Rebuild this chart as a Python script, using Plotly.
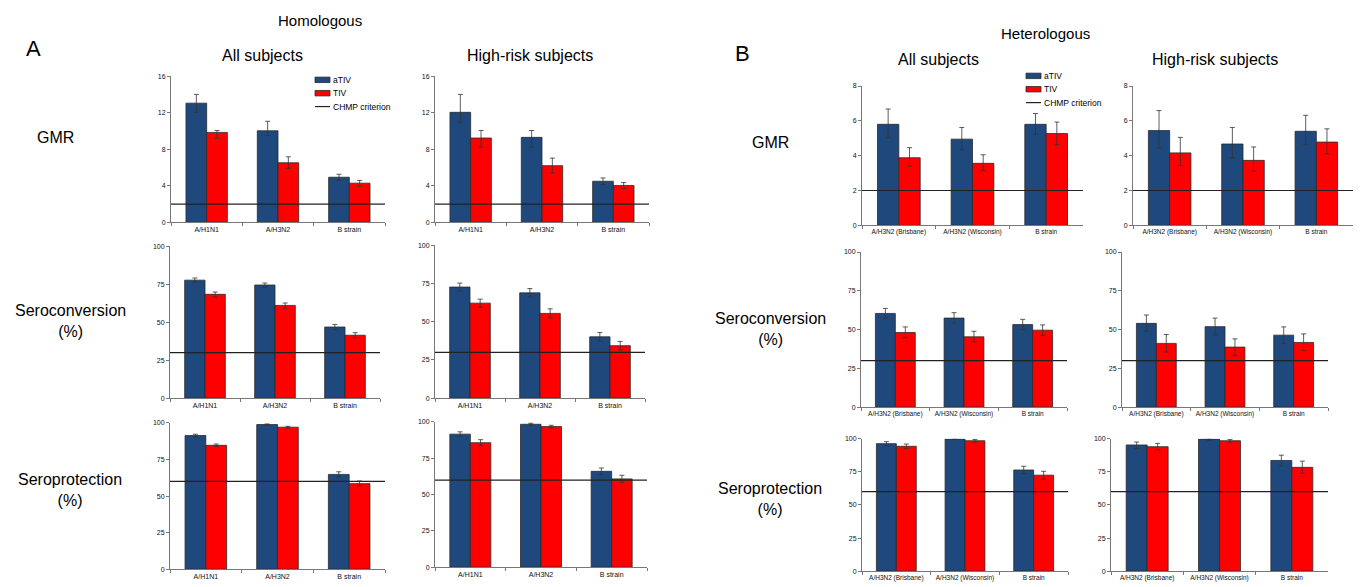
import plotly.graph_objects as go

W, H = 1360, 587

CATS_A = ["A/H1N1", "A/H3N2", "B strain"]
CATS_B = ["A/H3N2 (Brisbane)", "A/H3N2 (Wisconsin)", "B strain"]
SERIES = ["aTIV", "TIV"]
CRIT_LABEL = "CHMP criterion"

# ---- Panel A (homologous) ----
A_ALL_GMR_ATIV = [13.04, 10.02, 4.94]
A_ALL_GMR_ATIV_HI = [14.0, 11.06, 5.26]
A_ALL_GMR_ATIV_LO = [12.04, 9.51, 4.58]
A_ALL_GMR_TIV = [9.84, 6.52, 4.29]
A_ALL_GMR_TIV_HI = [10.05, 7.17, 4.58]
A_ALL_GMR_TIV_LO = [9.19, 5.91, 3.93]

A_HR_GMR_ATIV = [12.04, 9.3, 4.5]
A_HR_GMR_ATIV_HI = [14.0, 10.05, 4.86]
A_HR_GMR_ATIV_LO = [10.95, 8.25, 4.14]
A_HR_GMR_TIV = [9.23, 6.2, 4.04]
A_HR_GMR_TIV_HI = [10.05, 7.03, 4.36]
A_HR_GMR_TIV_LO = [8.25, 5.41, 3.71]

A_ALL_SC_ATIV = [77.6, 74.4, 46.8]
A_ALL_SC_ATIV_HI = [79.0, 75.7, 48.5]
A_ALL_SC_ATIV_LO = [76.3, 72.7, 45.0]
A_ALL_SC_TIV = [68.3, 61.0, 41.4]
A_ALL_SC_TIV_HI = [69.8, 62.6, 43.1]
A_ALL_SC_TIV_LO = [66.5, 59.2, 39.7]

A_HR_SC_ATIV = [72.6, 68.8, 40.1]
A_HR_SC_ATIV_HI = [75.2, 71.6, 42.9]
A_HR_SC_ATIV_LO = [70.0, 66.2, 37.3]
A_HR_SC_TIV = [62.1, 55.4, 34.3]
A_HR_SC_TIV_HI = [64.7, 58.4, 37.1]
A_HR_SC_TIV_LO = [59.3, 52.4, 31.5]

A_ALL_SP_ATIV = [91.4, 98.9, 64.8]
A_ALL_SP_ATIV_HI = [92.3, 99.3, 66.6]
A_ALL_SP_ATIV_LO = [90.3, 98.4, 63.0]
A_ALL_SP_TIV = [84.7, 97.1, 58.5]
A_ALL_SP_TIV_HI = [85.6, 97.7, 60.3]
A_ALL_SP_TIV_LO = [83.9, 96.4, 57.0]

A_HR_SP_ATIV = [91.6, 98.4, 66.0]
A_HR_SP_ATIV_HI = [93.2, 99.1, 68.3]
A_HR_SP_ATIV_LO = [90.0, 97.7, 63.7]
A_HR_SP_TIV = [85.7, 96.8, 60.8]
A_HR_SP_TIV_HI = [87.8, 97.7, 63.3]
A_HR_SP_TIV_LO = [83.7, 95.9, 58.4]

# ---- Panel B (heterologous) ----
B_ALL_GMR_ATIV = [5.8, 4.95, 5.8]
B_ALL_GMR_ATIV_HI = [6.68, 5.62, 6.42]
B_ALL_GMR_ATIV_LO = [5.03, 4.33, 5.22]
B_ALL_GMR_TIV = [3.88, 3.56, 5.27]
B_ALL_GMR_TIV_HI = [4.46, 4.05, 5.93]
B_ALL_GMR_TIV_LO = [3.39, 3.13, 4.63]

B_HR_GMR_ATIV = [5.44, 4.67, 5.4]
B_HR_GMR_ATIV_HI = [6.59, 5.62, 6.32]
B_HR_GMR_ATIV_LO = [4.44, 3.86, 4.63]
B_HR_GMR_TIV = [4.16, 3.73, 4.78]
B_HR_GMR_TIV_HI = [5.05, 4.5, 5.54]
B_HR_GMR_TIV_LO = [3.43, 3.1, 4.1]

B_ALL_SC_ATIV = [60.4, 57.4, 53.2]
B_ALL_SC_ATIV_HI = [63.6, 60.9, 56.6]
B_ALL_SC_ATIV_LO = [57.2, 54.3, 50.0]
B_ALL_SC_TIV = [48.1, 45.3, 49.6]
B_ALL_SC_TIV_HI = [51.7, 48.9, 53.0]
B_ALL_SC_TIV_LO = [44.7, 42.1, 46.2]

B_HR_SC_ATIV = [54.0, 51.9, 46.4]
B_HR_SC_ATIV_HI = [59.4, 57.4, 51.7]
B_HR_SC_ATIV_LO = [48.9, 46.6, 41.1]
B_HR_SC_TIV = [41.1, 38.7, 41.7]
B_HR_SC_TIV_HI = [46.8, 44.0, 47.2]
B_HR_SC_TIV_LO = [35.5, 33.2, 36.4]

B_ALL_SP_ATIV = [96.3, 99.8, 76.4]
B_ALL_SP_ATIV_HI = [97.8, 100.0, 79.2]
B_ALL_SP_ATIV_LO = [94.8, 99.3, 73.7]
B_ALL_SP_TIV = [94.3, 98.5, 72.5]
B_ALL_SP_TIV_HI = [96.0, 99.5, 75.4]
B_ALL_SP_TIV_LO = [92.6, 97.5, 69.5]

B_HR_SP_ATIV = [95.3, 99.8, 83.6]
B_HR_SP_ATIV_HI = [97.5, 100.5, 87.6]
B_HR_SP_ATIV_LO = [92.6, 98.8, 79.4]
B_HR_SP_TIV = [94.0, 98.5, 78.4]
B_HR_SP_TIV_HI = [96.5, 99.5, 83.1]
B_HR_SP_TIV_LO = [91.6, 97.5, 73.9]

# CHMP criteria
CRIT_GMR = 2
CRIT_SC = 30
CRIT_SP = 60

TICKS_GMR_A = [0, 4, 8, 12, 16]
TICKS_GMR_B = [0, 2, 4, 6, 8]
TICKS_PCT = [0, 25, 50, 75, 100]

BLUE = "#1f497d"
RED = "#ff0000"
EDGE = "#2a2a2a"
CRIT_COLOR = "#222222"
FONT = "Arial, Liberation Sans, sans-serif"

panels = [
    (CATS_A, (A_ALL_GMR_ATIV, A_ALL_GMR_ATIV_HI, A_ALL_GMR_ATIV_LO), (A_ALL_GMR_TIV, A_ALL_GMR_TIV_HI, A_ALL_GMR_TIV_LO), CRIT_GMR, TICKS_GMR_A, (171, 385, 73, 221), (315, 74)),
    (CATS_A, (A_HR_GMR_ATIV, A_HR_GMR_ATIV_HI, A_HR_GMR_ATIV_LO), (A_HR_GMR_TIV, A_HR_GMR_TIV_HI, A_HR_GMR_TIV_LO), CRIT_GMR, TICKS_GMR_A, (435, 649, 73, 221), None),
    (CATS_A, (A_ALL_SC_ATIV, A_ALL_SC_ATIV_HI, A_ALL_SC_ATIV_LO), (A_ALL_SC_TIV, A_ALL_SC_TIV_HI, A_ALL_SC_TIV_LO), CRIT_SC, TICKS_PCT, (170, 380, 245, 399), None),
    (CATS_A, (A_HR_SC_ATIV, A_HR_SC_ATIV_HI, A_HR_SC_ATIV_LO), (A_HR_SC_TIV, A_HR_SC_TIV_HI, A_HR_SC_TIV_LO), CRIT_SC, TICKS_PCT, (435, 645, 244, 399), None),
    (CATS_A, (A_ALL_SP_ATIV, A_ALL_SP_ATIV_HI, A_ALL_SP_ATIV_LO), (A_ALL_SP_TIV, A_ALL_SP_TIV_HI, A_ALL_SP_TIV_LO), CRIT_SP, TICKS_PCT, (170, 385, 424, 572), None),
    (CATS_A, (A_HR_SP_ATIV, A_HR_SP_ATIV_HI, A_HR_SP_ATIV_LO), (A_HR_SP_TIV, A_HR_SP_TIV_HI, A_HR_SP_TIV_LO), CRIT_SP, TICKS_PCT, (435, 647, 423, 570), None),
    (CATS_B, (B_ALL_GMR_ATIV, B_ALL_GMR_ATIV_HI, B_ALL_GMR_ATIV_LO), (B_ALL_GMR_TIV, B_ALL_GMR_TIV_HI, B_ALL_GMR_TIV_LO), CRIT_GMR, TICKS_GMR_B, (862, 1083, 83, 224), (1026, 70)),
    (CATS_B, (B_HR_GMR_ATIV, B_HR_GMR_ATIV_HI, B_HR_GMR_ATIV_LO), (B_HR_GMR_TIV, B_HR_GMR_TIV_HI, B_HR_GMR_TIV_LO), CRIT_GMR, TICKS_GMR_B, (1133, 1353, 83, 224), None),
    (CATS_B, (B_ALL_SC_ATIV, B_ALL_SC_ATIV_HI, B_ALL_SC_ATIV_LO), (B_ALL_SC_TIV, B_ALL_SC_TIV_HI, B_ALL_SC_TIV_LO), CRIT_SC, TICKS_PCT, (861, 1067, 251, 408), None),
    (CATS_B, (B_HR_SC_ATIV, B_HR_SC_ATIV_HI, B_HR_SC_ATIV_LO), (B_HR_SC_TIV, B_HR_SC_TIV_HI, B_HR_SC_TIV_LO), CRIT_SC, TICKS_PCT, (1122, 1328, 251, 408), None),
    (CATS_B, (B_ALL_SP_ATIV, B_ALL_SP_ATIV_HI, B_ALL_SP_ATIV_LO), (B_ALL_SP_TIV, B_ALL_SP_TIV_HI, B_ALL_SP_TIV_LO), CRIT_SP, TICKS_PCT, (862, 1068, 440, 574), None),
    (CATS_B, (B_HR_SP_ATIV, B_HR_SP_ATIV_HI, B_HR_SP_ATIV_LO), (B_HR_SP_TIV, B_HR_SP_TIV_HI, B_HR_SP_TIV_LO), CRIT_SP, TICKS_PCT, (1111, 1328, 440, 574), None),
]

fig = go.Figure()
layout_axes = {}
shapes = []
annotations = []


def px(x):
    return x / W


def py(y):
    return 1 - y / H


def txt(x, y, s, size, xanchor="center"):
    return dict(x=px(x), y=py(y), xref="paper", yref="paper", text=s, showarrow=False,
                xanchor=xanchor, yanchor="middle",
                font=dict(size=size, family=FONT, color="#000000"))


for i, (cats, ativ, tiv, crit, ticks, box, leg) in enumerate(panels, start=1):
    xa = "x" if i == 1 else f"x{i}"
    ya = "y" if i == 1 else f"y{i}"
    x0, x1, y0, y1 = box
    for name, (val, hi, lo), color in ((SERIES[0], ativ, BLUE), (SERIES[1], tiv, RED)):
        fig.add_trace(go.Bar(
            x=cats, y=val, name=name, xaxis=xa, yaxis=ya,
            marker=dict(color=color, line=dict(color=EDGE, width=0.8)),
            error_y=dict(type="data", symmetric=False,
                         array=[h - v for h, v in zip(hi, val)],
                         arrayminus=[v - l for v, l in zip(val, lo)],
                         color="#333333", thickness=0.8, width=2.5),
            showlegend=False,
        ))
    shapes.append(dict(type="line", xref=f"{xa} domain", yref=ya, x0=0, x1=1,
                       y0=crit, y1=crit, line=dict(color=CRIT_COLOR, width=1.2), layer="above"))
    if leg is not None:
        lx, ly = leg
        for k, color in enumerate((BLUE, RED)):
            yy = ly + 13.5 * k
            shapes.append(dict(type="rect", xref="paper", yref="paper",
                               x0=px(lx), x1=px(lx + 15), y0=py(yy + 5.5), y1=py(yy),
                               fillcolor=color, line=dict(color=EDGE, width=0.8)))
            annotations.append(txt(lx + 16, yy + 3, SERIES[k], 8.5, "left"))
        yy = ly + 27 + 2.8
        shapes.append(dict(type="line", xref="paper", yref="paper",
                           x0=px(lx), x1=px(lx + 15), y0=py(yy), y1=py(yy),
                           line=dict(color=CRIT_COLOR, width=1.2)))
        annotations.append(txt(lx + 16, yy, CRIT_LABEL, 8.5, "left"))

    layout_axes["xaxis" if i == 1 else f"xaxis{i}"] = dict(
        domain=[px(x0), px(x1)], anchor=ya, type="category",
        showline=True, linecolor="#777777", linewidth=1,
        ticks="outside", tickson="boundaries", ticklen=3, tickcolor="#777777",
        tickangle=0, automargin=False,
        tickfont=dict(size=7 if cats is CATS_A else 6.5, color="#111111", family=FONT),
        showgrid=False, zeroline=False, fixedrange=True,
    )
    layout_axes["yaxis" if i == 1 else f"yaxis{i}"] = dict(
        domain=[py(y1), py(y0)], anchor=xa, range=[0, ticks[-1]],
        tickvals=ticks, showline=True, linecolor="#777777", linewidth=1,
        ticks="outside", ticklen=3, tickcolor="#777777",
        tickfont=dict(size=7, color="#111111", family=FONT), showgrid=False, zeroline=False,
        fixedrange=True,
    )

annotations += [
    txt(320, 17, "Homologous", 15),
    txt(1045, 30, "Heterologous", 15),
    txt(33, 45, "A", 22),
    txt(743, 50, "B", 22),
    txt(262, 52, "All subjects", 16),
    txt(530, 52, "High-risk subjects", 16),
    txt(938, 56, "All subjects", 16),
    txt(1215, 56, "High-risk subjects", 16),
    txt(55, 135, "GMR", 16),
    txt(70, 321, "Seroconversion<br>(%)", 16),
    txt(70, 492, "Seroprotection<br>(%)", 16),
    txt(770, 140, "GMR", 16),
    txt(770, 329, "Seroconversion<br>(%)", 16),
    txt(770, 501, "Seroprotection<br>(%)", 16),
]

fig.update_layout(
    width=W, height=H, autosize=False,
    margin=dict(l=0, r=0, t=0, b=0),
    paper_bgcolor="white", plot_bgcolor="white",
    barmode="group", bargap=0.42, bargroupgap=0,
    shapes=shapes, annotations=annotations,
    showlegend=False,
    font=dict(family=FONT),
    **layout_axes,
)

fig.write_html("out.html", config={"displayModeBar": False},
               post_script="document.body.style.margin='0';document.body.style.overflow='hidden';")
